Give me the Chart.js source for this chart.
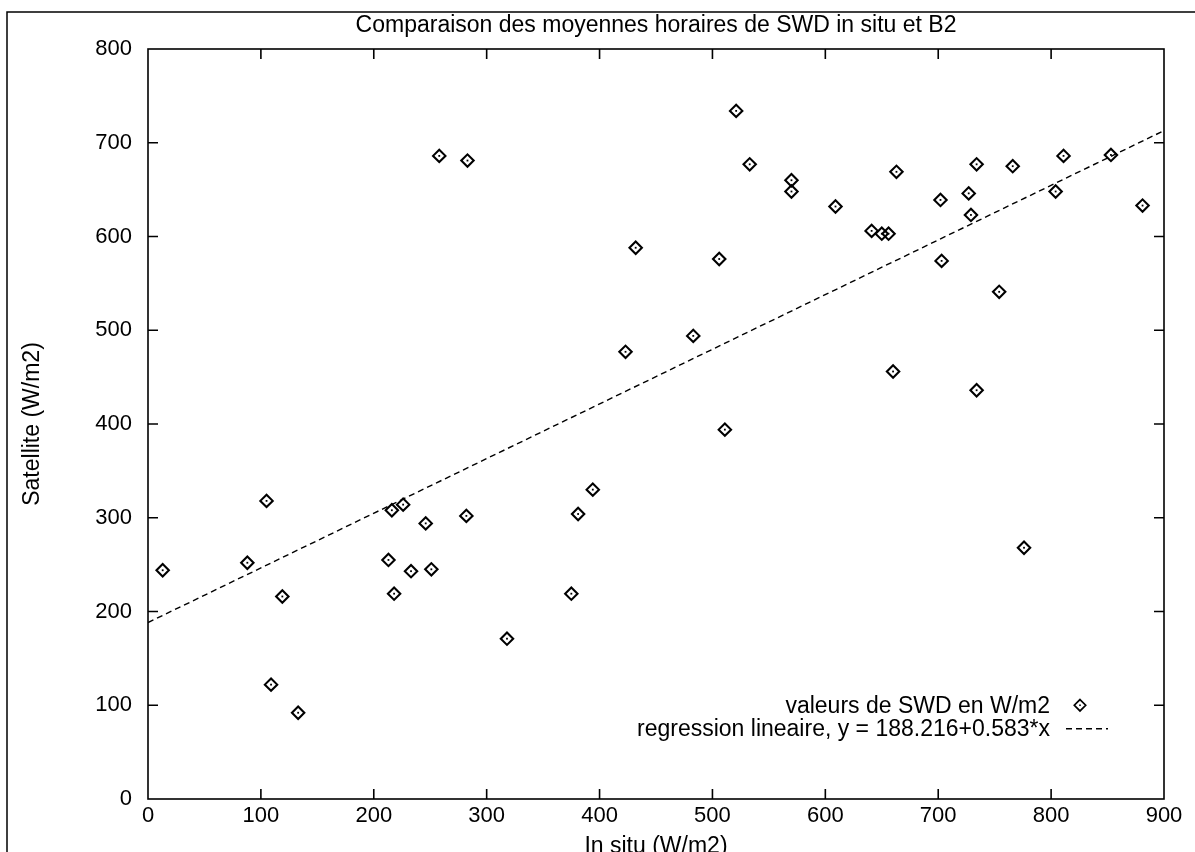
<!DOCTYPE html>
<html>
<head>
<meta charset="utf-8">
<script src="https://cdn.jsdelivr.net/npm/chart.js@4"></script>
<style>
  html, body { margin: 0; padding: 0; background: #fff; }
  #wrap { width: 1195px; height: 852px; }
</style>
</head>
<body>
<div id="wrap"><canvas id="c" width="1195" height="852"></canvas></div>
<script>
// values
const inSitu = [13, 88, 105, 119, 109, 133, 213, 216, 226, 218, 233, 246, 251, 282, 318, 375, 381, 394,
  423, 432, 483, 506, 511, 521, 533, 570, 570, 609, 641, 650, 656, 663, 660, 702, 703, 727, 729, 734,
  734, 754, 766, 776, 804, 811, 853, 881, 258, 283]
const satellite = [244, 252, 318, 216, 122, 92, 255, 308, 314, 219, 243, 294, 245, 302, 171, 219, 304, 330,
  477, 588, 494, 576, 394, 734, 677, 660, 648, 632, 606, 603, 603, 669, 456, 639, 574, 646, 623, 677,
  436, 541, 675, 268, 648, 686, 687, 633, 686, 681]
// regression line end points (y = 188.216 + 0.583*x at x = 0 and x = 900)
const regX = [0, 900]
const regY = [188.2, 712.9]

const titleText = "Comparaison des moyennes horaires de SWD in situ et B2"
const xTitle = "In situ (W/m2)"
const yTitle = "Satellite (W/m2)"
const seriesLabels = ["valeurs de SWD en W/m2", "regression lineaire, y = 188.216+0.583*x"]

const FONT = "'Liberation Sans', Arial, Helvetica, sans-serif"

const zip = (xs, ys) => xs.map((x, i) => ({ x, y: ys[i] }))

// page frame, plot frame with inward ticks, centre dots, gnuplot-like key
const framePlugin = {
  id: "frame",
  beforeDraw(chart) {
    const ctx = chart.ctx
    ctx.save()
    ctx.strokeStyle = "#000"
    ctx.lineWidth = 1.5
    ctx.beginPath()
    ctx.moveTo(7, 860)
    ctx.lineTo(7, 12)
    ctx.lineTo(1200, 12)
    ctx.stroke()
    ctx.restore()
  },
  afterDatasetsDraw(chart) {
    const ctx = chart.ctx
    const a = chart.chartArea
    const xs = chart.scales.x, ys = chart.scales.y
    const tl = 10
    ctx.save()
    ctx.strokeStyle = "#000"
    ctx.lineWidth = 1.6
    ctx.strokeRect(a.left, a.top, a.right - a.left, a.bottom - a.top)
    ctx.beginPath()
    xs.ticks.forEach(t => {
      if (t.value <= xs.min || t.value >= xs.max) return
      const px = xs.getPixelForValue(t.value)
      ctx.moveTo(px, a.bottom); ctx.lineTo(px, a.bottom - tl)
      ctx.moveTo(px, a.top); ctx.lineTo(px, a.top + tl)
    })
    ys.ticks.forEach(t => {
      if (t.value <= ys.min || t.value >= ys.max) return
      const py = ys.getPixelForValue(t.value)
      ctx.moveTo(a.left, py); ctx.lineTo(a.left + tl, py)
      ctx.moveTo(a.right, py); ctx.lineTo(a.right - tl, py)
    })
    ctx.stroke()

    // small dot in the middle of each diamond
    ctx.fillStyle = "#000"
    chart.getDatasetMeta(0).data.forEach(p => {
      ctx.fillRect(p.x - 0.9, p.y - 0.9, 1.8, 1.8)
    })

    // key
    const textRight = 1050
    const rows = [ys.getPixelForValue(100), ys.getPixelForValue(75)]
    ctx.font = "23px " + FONT
    ctx.textAlign = "right"
    ctx.textBaseline = "middle"
    chart.data.datasets.forEach((ds, i) => {
      const y = rows[i]
      ctx.fillStyle = "#000"
      ctx.fillText(ds.label, textRight, y + 1)
      if (i === 0) {
        const r = ds.pointRadius - 0.5
        ctx.beginPath()
        ctx.moveTo(1080, y - r)
        ctx.lineTo(1080 + r, y)
        ctx.lineTo(1080, y + r)
        ctx.lineTo(1080 - r, y)
        ctx.closePath()
        ctx.lineWidth = ds.pointBorderWidth - 0.4
        ctx.stroke()
        ctx.fillRect(1080 - 0.8, y - 0.8, 1.6, 1.6)
      } else {
        ctx.beginPath()
        ctx.setLineDash(ds.borderDash)
        ctx.lineWidth = ds.borderWidth
        ctx.moveTo(1066, y)
        ctx.lineTo(1108, y)
        ctx.stroke()
        ctx.setLineDash([])
      }
    })
    ctx.restore()
  }
}

new Chart(document.getElementById("c"), {
  type: "scatter",
  data: {
    datasets: [
      {
        label: seriesLabels[0],
        data: zip(inSitu, satellite),
        pointStyle: "rectRot",
        pointRadius: 6.2,
        pointBorderWidth: 2.1,
        pointBackgroundColor: "rgba(255,255,255,0)",
        pointBorderColor: "#000",
        showLine: false
      },
      {
        label: seriesLabels[1],
        data: zip(regX, regY),
        showLine: true,
        borderColor: "#000",
        borderWidth: 1.4,
        borderDash: [6, 4],
        pointRadius: 0,
        fill: false
      }
    ]
  },
  options: {
    responsive: false,
    animation: false,
    devicePixelRatio: 1,
    layout: { padding: { left: 0, right: 31, top: 0, bottom: 0 } },
    plugins: {
      legend: { display: false },
      tooltip: { enabled: false },
      title: {
        display: true,
        text: titleText,
        fullSize: false,
        color: "#000",
        font: { family: FONT, size: 23, weight: "normal" },
        padding: { top: 12, bottom: 9.4 }
      }
    },
    scales: {
      x: {
        type: "linear",
        min: 0, max: 900,
        ticks: { stepSize: 100, color: "#000", font: { family: FONT, size: 22 }, padding: 4, maxRotation: 0 },
        grid: { display: false, drawTicks: false },
        border: { display: false },
        title: { display: true, text: xTitle, color: "#000", font: { family: FONT, size: 23 }, padding: { top: 0, bottom: -8 } },
        afterFit: s => { s.height = 53 }
      },
      y: {
        type: "linear",
        min: 0, max: 800,
        ticks: { stepSize: 100, color: "#000", font: { family: FONT, size: 22 }, padding: 16 },
        grid: { display: false, drawTicks: false },
        border: { display: false },
        title: { display: true, text: yTitle, color: "#000", font: { family: FONT, size: 23 }, padding: { top: 19, bottom: 0 } },
        afterFit: s => { s.width = 148 }
      }
    }
  },
  plugins: [framePlugin]
})
</script>
</body>
</html>
